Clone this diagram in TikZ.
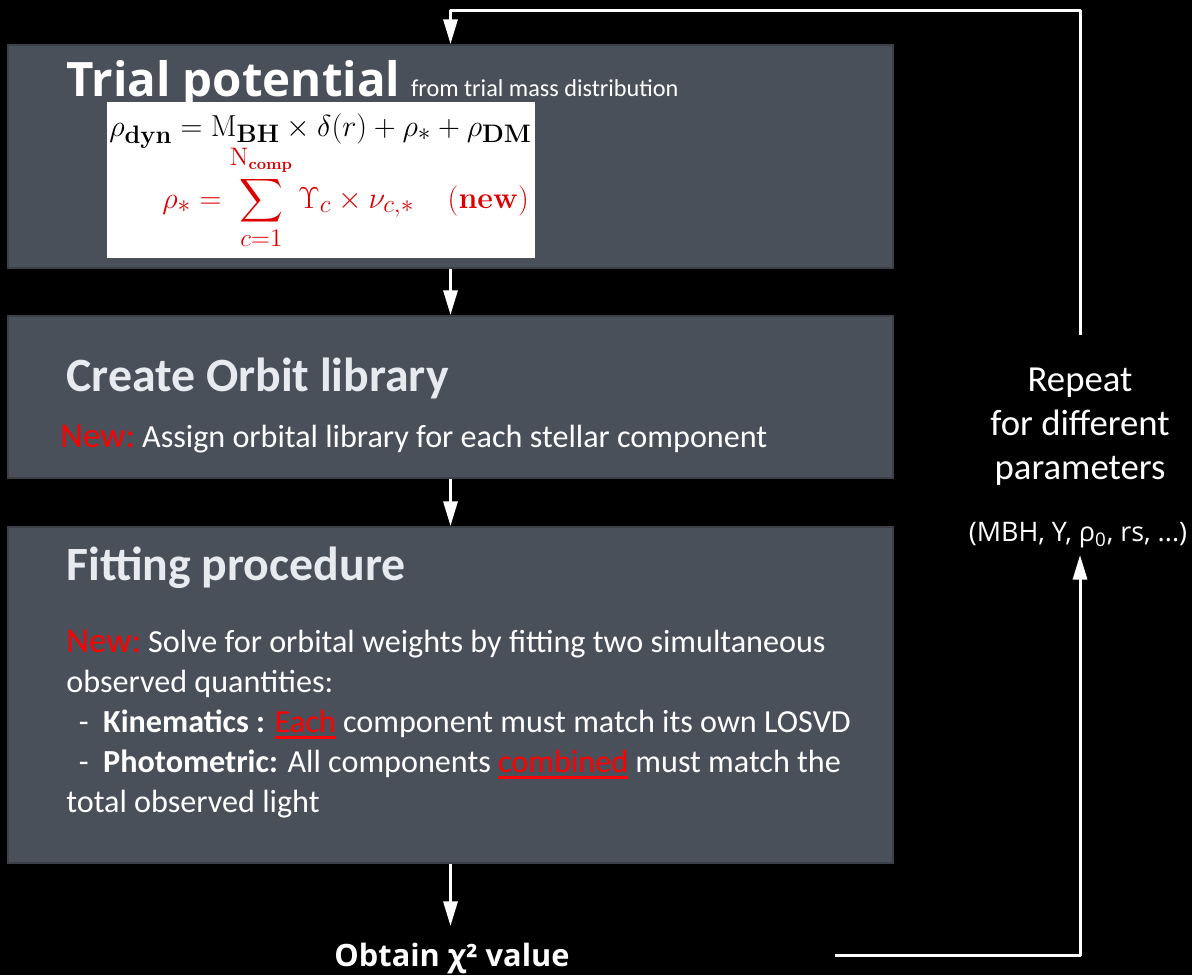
\documentclass[tikz,border=0pt]{standalone}
\usepackage[no-math]{fontspec}
\setmainfont{Carlito}
\newfontfamily\osans{Open Sans}
\usepackage{amsmath}
\usetikzlibrary{arrows.meta}
\definecolor{boxgray}{RGB}{74,80,90}
\definecolor{boxedge}{RGB}{58,63,72}
\definecolor{headgray}{RGB}{231,235,240}
\definecolor{newred}{RGB}{255,0,0}
\definecolor{eqred}{RGB}{222,0,0}
\newcommand{\newtag}{{\fontsize{20}{22.7}\selectfont\textcolor{newred}{New:}}}
\newcommand{\redul}[1]{{\color{newred}\setbox0\hbox{#1}\rlap{\rule[-3.4pt]{\wd0}{1.3pt}}\box0}}

\tikzset{
  stepbox/.style={fill=boxgray,draw=boxedge,line width=1.2pt,minimum width=17.7cm,inner sep=0pt},
  headtxt/.style={anchor=base west,inner sep=0pt,text=headgray,font=\fontsize{27.2}{30}\selectfont\bfseries},
  bodytxt/.style={inner sep=0pt,text=white,align=left,font=\fontsize{18.3}{22.7}\selectfont},
  eqtxt/.style={anchor=base west,inner sep=0pt,font=\fontsize{19}{22}\selectfont},
  flow/.style={white,line width=1.7pt,line join=round,-{Triangle[width=8pt,length=14pt]}}
}

\begin{document}
\begin{tikzpicture}[x=0.02cm,y=-0.02cm]
  \fill[black] (0,0) rectangle (1192,975);
  \useasboundingbox (0,0) rectangle (1192,975);

  % the three steps
  \node[stepbox,minimum height=4.46cm] (b1) at (450.5,156.5) {};
  \node[stepbox,minimum height=3.24cm] (b2) at (450.5,397) {};
  \node[stepbox,minimum height=6.72cm] (b3) at (450.5,695) {};

  % step 1: trial potential
  \node[anchor=base west,inner sep=0pt,text=white,font=\fontsize{27}{30}\selectfont] (h1) at (66,96)
    {{\osans\bfseries Trial potential} {\fontsize{13.8}{16}\selectfont from trial mass distribution}};
  \node[fill=white,minimum width=8.56cm,minimum height=3.12cm,inner sep=0pt] (eqbox) at (321,180) {};
  \node[eqtxt] (eq1) at (109,136)
    {$\rho_{\mathbf{dyn}} = \mathrm{M}_{\mathbf{BH}} \times \delta(r) + \rho_* + \rho_{\mathbf{DM}}$};
  \node[eqtxt,text=eqred] (eq2) at (162,208)
    {$\displaystyle \rho_* = \sum_{c=1}^{\mathrm{N}_{\mathbf{comp}}} \Upsilon_c \times \nu_{c,*} \quad (\mathbf{new})$};

  % step 2: orbit library
  \node[headtxt] (h2) at (66,391) {Create Orbit library};
  \node[bodytxt,anchor=base west] (t2) at (60,447) {\newtag\ Assign orbital library for each stellar component};

  % step 3: fitting
  \node[headtxt] (h3) at (66,580) {Fitting procedure};
  \node[bodytxt,anchor=north west] (t3) at (66,630) {\newtag\ Solve for orbital weights by fitting two simultaneous\\
    observed quantities:\\
    \hspace*{0.25cm}-\ \ \textbf{Kinematics :} \redul{Each} component must match its own LOSVD\\
    \hspace*{0.25cm}-\ \ \textbf{Photometric:} All components \redul{combined} must match the\\
    total observed light};

  % result and loop
  \node[anchor=base,inner sep=0pt,text=white,font=\osans\fontsize{17.5}{20}\selectfont\bfseries] (chi) at (452,966) {Obtain χ² value};
  \node[inner sep=0pt,text=white,align=center,font=\fontsize{20.9}{25}\selectfont] (rep) at (1080,427) {Repeat\\for different\\parameters};
  \node[inner sep=0pt,text=white,font=\osans\fontsize{15.3}{17}\selectfont] (par) at (1078,535) {(MBH, Υ, ρ\textsubscript{0}, rs, ...)};

  \coordinate (top) at (450.5,10);
  \coordinate (rt) at (1080,335);
  \coordinate (chitop) at (450.5,926);
  \coordinate (bl) at (835,955);
  \coordinate (pbot) at (1080,555);

  \draw[flow] (rt) |- (top) -- (b1.north);
  \draw[flow] (b1.south) -- (b2.north);
  \draw[flow] (b2.south) -- (b3.north);
  \draw[flow] (b3.south) -- (chitop);
  \draw[flow] (bl) -| (pbot);
\end{tikzpicture}
\end{document}
